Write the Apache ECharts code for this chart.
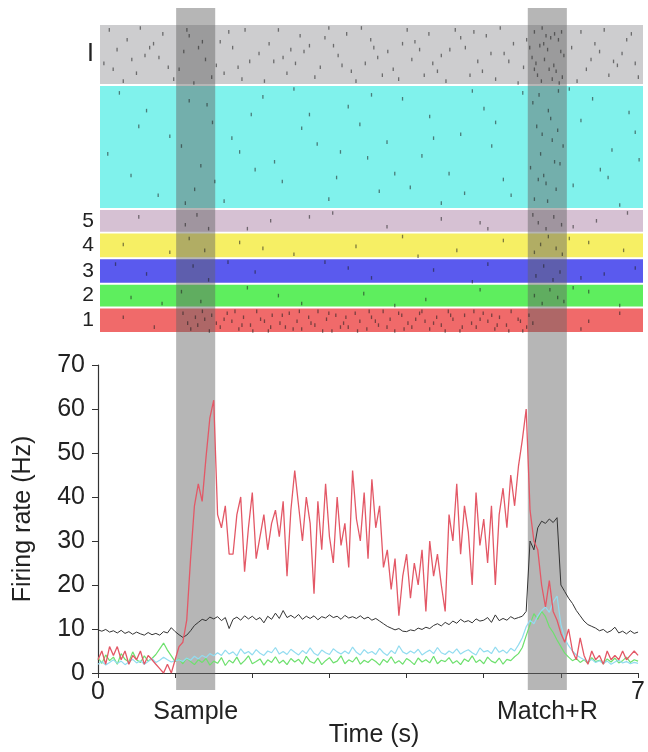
<!DOCTYPE html>
<html>
<head>
<meta charset="utf-8">
<script src="https://cdn.jsdelivr.net/npm/echarts@6/dist/echarts.min.js"></script>
<style>
  html, body { margin: 0; padding: 0; background: #fff; }
  #chart { width: 648px; height: 752px; }
</style>
</head>
<body>
<div id="chart"></div>
<script>
// firing rate bins (s)
const binStep = 0.05;

const redRate = [
  3, 5, 2, 6, 4, 6, 3, 5, 2, 4,
  3, 5, 2, 4, 3, 2, 1, 0, 2, 0,
  3, 6, 7, 12, 26, 38, 43, 39, 49, 58,
  62, 36, 33, 38, 27, 27, 36, 40, 23, 33,
  41, 26, 31, 36, 28, 34, 37, 31, 39, 22,
  37, 46, 38, 30, 40, 34, 18, 39, 28, 43,
  31, 25, 40, 29, 34, 24, 46, 35, 30, 41,
  26, 44, 33, 38, 24, 28, 19, 26, 13, 22,
  27, 17, 25, 20, 28, 14, 30, 22, 27, 20,
  14, 36, 30, 43, 27, 38, 32, 20, 41, 29,
  35, 25, 38, 20, 36, 42, 33, 45, 38, 47,
  53, 60, 37, 30, 28, 20, 15, 21, 14, 12,
  9, 7, 10, 5, 3, 8, 4, 2, 5, 3,
  4, 2, 5, 3, 4, 3, 5, 3, 4, 5,
  4
];

const blackRate = [
  9.8, 9.5, 9.9, 9.3, 9.6, 9.1, 9.7, 9.0, 9.4, 8.8,
  9.3, 8.9, 8.6, 9.2, 8.7, 9.0, 8.6, 9.4, 9.1, 10.3,
  9.4, 8.7, 8.1, 8.6, 9.6, 10.8, 11.5, 12.2, 11.9, 12.7,
  12.3, 12.8, 11.9, 12.6, 10.1, 12.2, 12.7, 12.0, 13.0, 12.3,
  12.9, 12.1, 12.6, 11.4, 12.9, 12.2, 13.6, 12.4, 14.2, 12.6,
  13.1, 12.5, 13.3, 12.2, 12.9, 12.4, 13.0, 12.1, 12.8, 12.5,
  13.2, 12.6, 12.9, 12.2, 13.1, 12.5, 12.8, 12.4, 13.0, 12.3,
  12.7, 12.0, 12.4, 11.8, 11.2, 10.6, 10.2, 9.8, 10.1, 9.5,
  9.4, 9.8, 9.6, 10.2, 9.9, 10.4, 10.1, 10.8, 11.2, 10.7,
  11.5, 11.0, 11.8, 11.3, 12.2, 11.6, 11.9, 11.4, 12.3, 11.8,
  12.0, 12.6, 11.5, 13.2, 11.9, 12.4, 12.0, 12.8, 12.3, 12.6,
  12.9, 14.0, 30, 28, 33, 34.5, 34, 35, 34.2, 35.3,
  20, 18.5, 17.0, 15.8, 14.2, 13.0, 11.8, 11.0, 10.6, 10.2,
  9.6, 9.9, 9.2, 9.6, 10.4, 9.1, 9.5, 8.9, 9.6, 9.0,
  9.3
];

const greenRate = [
  3.5, 2.2, 4.1, 2.8, 3.6, 2.0, 4.4, 3.1, 2.5, 4.8,
  3.0, 2.4, 3.9, 2.7, 3.3, 4.2, 5.5, 6.8, 5.2, 3.9,
  2.6, 3.2, 2.1, 3.4, 2.6, 1.9, 3.0, 2.4, 3.3, 1.8,
  2.7, 2.2, 3.5, 1.7, 2.9, 2.3, 3.6, 2.0, 2.8, 3.9,
  2.1, 2.6, 3.2, 1.8, 3.0, 2.4, 3.7, 2.2, 2.9, 1.9,
  3.3, 2.5, 3.1, 2.0, 3.8, 2.6, 2.2, 3.4, 1.9, 2.8,
  3.5, 2.3, 2.7, 3.9, 2.1, 3.0, 2.5, 3.6, 2.0, 2.9,
  2.4, 3.2, 2.6, 1.8, 3.1, 2.4, 3.7, 2.2, 2.8, 2.0,
  3.3, 2.7, 1.9, 3.4, 2.5, 3.0, 2.3, 3.8, 2.1, 2.9,
  2.6, 3.5, 2.2, 2.8, 1.9, 3.2, 2.6, 3.9, 2.4, 3.0,
  2.1, 3.6, 2.7, 2.3, 3.4, 2.0, 3.1, 2.8, 3.7, 4.4,
  5.8, 8.5, 11.0, 13.5, 12.2, 14.0, 12.8, 10.5, 9.2, 7.5,
  6.0, 4.5, 3.6, 2.8, 3.3, 2.4, 3.0, 2.2, 3.5, 2.6,
  2.9, 2.1, 3.2, 2.5, 3.4, 2.3, 2.8, 3.6, 2.4, 3.0,
  2.7
];

const cyanRate = [
  2.0, 2.6, 1.8, 2.4, 3.0, 2.2, 2.7, 1.9, 2.5, 3.1,
  2.3, 2.8, 2.0, 2.6, 3.3, 2.4, 2.9, 3.6, 3.0, 2.5,
  2.8, 3.0, 2.6, 3.4, 2.9, 3.8, 3.2, 4.0, 3.5, 4.4,
  3.9, 4.6, 4.0, 5.2, 4.3, 4.8, 3.9, 5.5, 4.4, 4.9,
  4.1, 5.3, 4.5, 4.0, 5.0, 4.6, 5.8, 4.3, 4.9, 4.2,
  5.4, 4.7, 4.1, 5.1, 4.4, 5.7, 4.5, 4.0, 5.2, 4.6,
  4.2, 5.5, 4.8, 4.3, 5.0, 4.4, 5.9, 4.7, 4.1, 5.3,
  4.5, 4.9, 4.2, 5.6, 4.6, 4.0, 5.1, 4.4, 6.2, 4.8,
  4.3, 5.0, 4.5, 5.4, 4.1, 4.7, 5.2, 4.4, 5.8, 4.6,
  4.2, 5.0, 4.5, 5.5, 4.3, 4.9, 5.3, 4.6, 4.1, 5.7,
  4.8, 5.1, 4.4, 5.9, 4.7, 5.2, 4.5, 5.6, 5.0, 6.4,
  8.0, 10.5, 12.0, 11.2, 13.0, 14.2, 15.0, 13.8, 16.2, 17.5,
  11.0, 7.8, 6.2, 5.0, 4.1, 3.5, 3.0, 2.6, 3.1, 2.4,
  2.8, 2.2, 2.7, 2.0, 2.5, 2.9, 2.3, 2.6, 2.1, 2.4,
  2.2
];

// raster: trials per condition, top to bottom
const bandLabels = ['I', '', '5', '4', '3', '2', '1'];
const bandTrials = [30, 62, 11, 12, 12, 11, 12];

// spikes as [time (s), trial within condition]
const spikesI = [
  [0.12,2],[0.35,7],[0.58,15],[0.81,4],[1.02,22],[1.27,11],[1.44,26],[1.66,3],[1.93,18],[2.18,9],
  [2.41,24],[2.63,13],[2.9,6],[3.12,20],[3.37,1],[3.58,16],[3.85,27],[4.06,8],[4.29,19],[4.51,12],
  [4.77,25],[4.98,5],[5.21,14],[5.46,21],[5.6,3],[5.67,10],[5.73,17],[5.81,6],[5.88,23],[5.94,13],
  [6.15,28],[6.38,9],[6.62,18],[6.85,4],[0.22,12],[0.47,24],[0.69,9],[0.95,27],[1.15,5],[1.36,17],
  [1.55,8],[1.78,21],[2.05,14],[2.3,2],[2.52,19],[2.77,26],[3.01,10],[3.24,23],[3.49,7],[3.71,13],
  [3.96,2],[4.18,25],[4.4,15],[4.65,6],[4.87,18],[5.1,27],[5.33,9],[5.57,16],[5.64,25],[5.7,1],
  [5.77,12],[5.85,20],[5.91,7],[5.98,15],[6.27,22],[6.5,2],[6.73,14],[6.94,26],[0.05,19],[0.3,28],
  [0.52,1],[0.76,16],[1.08,13],[1.21,29],[1.5,20],[1.71,11],[1.87,2],[2.12,28],[2.36,16],[2.58,5],
  [2.84,21],[3.07,15],[3.3,28],[3.53,11],[3.78,22],[4.02,17],[4.24,4],[4.46,28],[4.71,11],[4.93,23],
  [5.16,1],[5.39,29],[5.54,11],[5.62,19],[5.69,28],[5.79,22],[5.86,4],[5.96,26],[6.08,11],[6.33,17],
  [6.56,25],[6.79,7],[0.17,22],[0.64,11],[1.12,2],[1.6,24],[2.24,18],[2.7,10],[3.18,4],[3.64,25],
  [4.12,12],[4.58,2],[5.04,14],[5.5,7],[5.75,5],[5.92,29],[6.2,3],[6.67,20],
  [0.41,17],[0.88,21],[1.32,8],[1.83,27],[2.46,12],[2.95,1],[3.42,19],[3.9,9],[4.35,23],[4.82,3],
  [5.27,18],[5.6,22],[5.72,9],[5.83,27],[5.95,3],[6.44,13],[6.9,19]
];
const spikesCyan = [
  [0.25,3],[0.6,12],[0.9,25],[1.15,7],[1.3,40],[1.45,18],[1.8,33],[2.1,5],[2.35,48],[2.6,21],
  [2.95,57],[3.2,10],[3.45,36],[3.7,28],[4.0,51],[4.25,15],[4.5,44],[4.8,2],[5.05,30],[5.3,55],
  [5.58,8],[5.63,20],[5.68,34],[5.72,45],[5.78,12],[5.83,27],[5.88,52],[5.93,39],[6.2,17],[6.45,42],
  [6.7,60],[6.9,23],[0.4,45],[0.75,55],[1.05,30],[1.22,52],[1.38,9],[1.6,58],[1.95,14],[2.25,38],
  [2.5,1],[2.8,29],[3.05,46],[3.35,19],[3.6,53],[3.9,6],[4.15,35],[4.4,59],[4.65,24],[4.95,11],
  [5.2,47],[5.45,3],[5.6,57],[5.66,4],[5.7,24],[5.75,49],[5.81,16],[5.86,38],[5.91,2],[5.97,30],
  [6.1,50],[6.35,6],[6.6,32],[6.82,13],[0.1,34],[0.5,20],[1.1,59],[1.48,48],[1.7,26],[2.0,42],
  [2.7,14],[3.1,33],[3.5,4],[3.8,44],[4.3,26],[4.7,54],[5.1,18],[5.55,41],[5.65,47],[5.77,58],
  [5.9,22],[6.05,1],[6.55,46],[6.95,37]
];
const spikes5 = [
  [0.5,3],[1.1,7],[1.25,2],[1.4,9],[2.2,5],[3.0,1],[3.7,8],[4.4,4],[5.0,9],[5.58,2],
  [5.65,6],[5.75,9],[5.85,3],[5.95,7],[6.4,5],[6.8,1],[1.9,9],[2.7,3],[4.9,6],[6.1,8]
];
const spikes4 = [
  [0.3,5],[0.9,9],[1.15,2],[1.35,8],[1.8,4],[2.5,10],[3.3,6],[3.9,1],[4.6,8],[5.2,3],
  [5.6,9],[5.68,5],[5.78,1],[5.88,7],[5.96,10],[6.3,4],[6.75,8],[2.1,7],[4.1,11],[6.05,2]
];
const spikes3 = [
  [0.6,7],[1.2,3],[1.4,10],[2.0,6],[2.9,1],[3.5,9],[4.3,5],[5.0,2],[5.62,8],[5.72,3],
  [5.84,10],[5.93,6],[6.2,9],[6.9,4],[0.2,2],[1.65,1],[3.2,4],[4.8,11],[6.5,7]
];
const spikes2 = [
  [0.4,6],[1.05,3],[1.3,8],[1.9,1],[2.6,9],[3.4,4],[4.2,7],[4.9,2],[5.6,5],[5.7,9],
  [5.8,2],[5.9,6],[5.98,8],[6.3,3],[6.7,10],[0.8,9],[2.3,5],[3.8,10],[6.1,1]
];
const spikes1 = [
  [0.3,4],[0.7,9],[6.3,6],[6.7,2],[6.2,10],
  [1.07,2],[1.13,7],[1.17,10],[1.23,4],[1.26,8],[1.32,1],[1.35,5],[1.41,11],[1.44,3],[1.5,7],
  [1.55,9],[1.64,2],[1.7,6],[1.79,10],[1.85,4],[1.94,8],[2.02,1],[2.07,5],[2.17,11],[2.22,3],
  [2.32,7],[2.39,9],[2.44,2],[2.54,6],[2.6,10],[2.69,4],[2.77,8],[2.81,1],[2.92,5],[2.99,11],
  [3.04,3],[3.14,7],[3.2,9],[3.29,2],[3.35,6],[3.44,10],[3.5,4],[3.59,8],[3.65,1],[3.74,5],
  [3.8,11],[3.89,3],[3.97,7],[4.02,9],[4.12,2],[4.19,6],[4.25,10],[4.34,4],[4.4,8],[4.49,1],
  [4.55,5],[4.64,11],[4.7,3],[4.79,7],[4.85,9],[4.94,2],[5.0,6],[5.09,10],[5.15,4],[5.24,8],
  [5.3,1],[5.39,5],[5.45,11],[5.53,3],[5.58,7],
  [1.6,5],[1.74,1],[1.83,8],[1.97,11],[2.12,6],[2.2,9],[2.35,3],[2.49,10],[2.57,1],[2.72,7],
  [2.87,11],[2.95,2],[3.1,9],[3.17,4],[3.32,11],[3.47,1],[3.55,6],[3.7,9],[3.85,2],[3.92,10],
  [4.07,5],[4.15,1],[4.3,7],[4.45,11],[4.52,3],[4.67,9],[4.82,1],[4.9,5],[5.05,3],[5.12,8],
  [5.27,11],[5.42,6],[5.5,9]
];
const rasterSpikes = [spikesI, spikesCyan, spikes5, spikes4, spikes3, spikes2, spikes1];

// task epochs (s)
const epochNames = ['Sample', 'Match+R'];
const epochStart = [1.0, 5.5];
const epochEnd = [1.5, 6.0];

const bandColors = ['#cdcdcf', '#80f2ec', '#d6c1d3', '#f6ef64', '#5a5aee', '#5eee5e', '#f06a6a'];
const font = 'Liberation Sans, Arial, sans-serif';

// stack the conditions, 1 trial gap between them
const bandAreas = [];
const spikePoints = [];
let offset = 0;
bandTrials.forEach((n, b) => {
    bandAreas.push([
        {
            name: bandLabels[b],
            xAxis: 0,
            yAxis: offset,
            itemStyle: { color: bandColors[b] },
            label: { fontSize: b === 0 ? 25 : 21 }
        },
        { xAxis: 7, yAxis: offset + n }
    ]);
    rasterSpikes[b].forEach(s => spikePoints.push([s[0], offset + s[1] + 0.5]));
    offset += n + 1;
});
const totalTrials = offset - 1;

const epochAreas = epochNames.map((name, i) => [
    { name: name, xAxis: epochStart[i], yAxis: 0 },
    { xAxis: epochEnd[i], yAxis: 1 }
]);

const pairUp = (arr) => arr.map((v, i) => [+(i * binStep).toFixed(2), v]);

const chart = echarts.init(document.getElementById('chart'));

const option = {
    animation: false,
    backgroundColor: '#fff',
    textStyle: { fontFamily: font },
    grid: [
        { left: 100, right: 5, top: 25, height: 307 },
        { left: 98, right: 3, top: 365, height: 308 },
        { left: 98, right: 3, top: 8, height: 682 }
    ],
    xAxis: [
        { gridIndex: 0, type: 'value', min: 0, max: 7, show: false },
        {
            gridIndex: 1,
            type: 'value',
            min: 0,
            max: 7,
            interval: 1,
            name: 'Time (s)',
            nameLocation: 'middle',
            nameGap: 50,
            nameTextStyle: { fontSize: 25, color: '#222', fontFamily: font, padding: [0, 0, 0, 12] },
            axisLine: { lineStyle: { color: '#333', width: 1.2 } },
            axisTick: { length: 5, lineStyle: { color: '#333' } },
            splitLine: { show: false },
            axisLabel: {
                margin: 7,
                fontSize: 25,
                color: '#222',
                fontFamily: font,
                showMaxLabel: true,
                formatter: v => (v === 0 || v === 7) ? String(v) : ''
            }
        },
        { gridIndex: 2, type: 'value', min: 0, max: 7, show: false }
    ],
    yAxis: [
        { gridIndex: 0, type: 'value', min: 0, max: totalTrials, inverse: true, show: false },
        {
            gridIndex: 1,
            type: 'value',
            min: 0,
            max: 70,
            interval: 10,
            name: 'Firing rate (Hz)',
            nameLocation: 'middle',
            nameGap: 62,
            nameTextStyle: { fontSize: 25, color: '#222', fontFamily: font },
            axisLine: { show: true, lineStyle: { color: '#333', width: 1.2 } },
            axisTick: { show: true, length: 6, lineStyle: { color: '#333' } },
            splitLine: { show: false },
            axisLabel: { margin: 13, fontSize: 25, color: '#222', fontFamily: font }
        },
        { gridIndex: 2, type: 'value', min: 0, max: 1, show: false }
    ],
    series: [
        {
            type: 'scatter',
            xAxisIndex: 0,
            yAxisIndex: 0,
            data: [],
            silent: true,
            z: 1,
            markArea: {
                silent: true,
                label: {
                    show: true,
                    position: 'left',
                    distance: 6,
                    color: '#222',
                    fontFamily: font
                },
                data: bandAreas
            }
        },
        {
            type: 'scatter',
            xAxisIndex: 0,
            yAxisIndex: 0,
            symbol: 'rect',
            symbolSize: [1.3, 3.6],
            itemStyle: { color: 'rgba(30,30,30,0.7)' },
            data: spikePoints,
            silent: true,
            z: 2
        },
        {
            type: 'scatter',
            xAxisIndex: 2,
            yAxisIndex: 2,
            data: [],
            silent: true,
            z: 3,
            markArea: {
                silent: true,
                itemStyle: { color: 'rgba(100,100,100,0.47)' },
                label: {
                    show: true,
                    position: 'bottom',
                    distance: 10,
                    fontSize: 25,
                    color: '#222',
                    fontFamily: font
                },
                data: epochAreas
            }
        },
        {
            type: 'line',
            xAxisIndex: 1,
            yAxisIndex: 1,
            data: pairUp(greenRate),
            showSymbol: false,
            lineStyle: { color: '#6ee06e', width: 1.2 },
            z: 4
        },
        {
            type: 'line',
            xAxisIndex: 1,
            yAxisIndex: 1,
            data: pairUp(cyanRate),
            showSymbol: false,
            lineStyle: { color: '#92dcf0', width: 1.2 },
            z: 4
        },
        {
            type: 'line',
            xAxisIndex: 1,
            yAxisIndex: 1,
            data: pairUp(blackRate),
            showSymbol: false,
            lineStyle: { color: '#333', width: 1 },
            z: 5
        },
        {
            type: 'line',
            xAxisIndex: 1,
            yAxisIndex: 1,
            data: pairUp(redRate),
            showSymbol: false,
            lineStyle: { color: '#e35866', width: 1.3 },
            z: 6
        }
    ]
};

chart.setOption(option);
</script>
</body>
</html>
